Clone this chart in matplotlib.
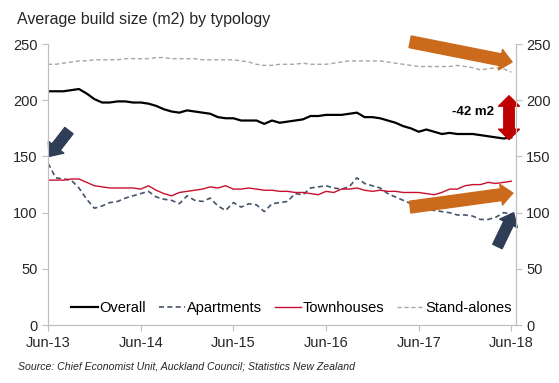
import matplotlib.pyplot as plt

plt.rcParams['font.family'] = ['Liberation Sans', 'DejaVu Sans']

# monthly series, Jun-13 .. Jun-18 (61 months)
overall = [208, 208, 208, 209, 210, 206, 201, 198, 198, 199, 199, 198, 198, 197, 195, 192,
           190, 189, 191, 190, 189, 188, 185, 184, 184, 182, 182, 182, 179, 182, 180, 181,
           182, 183, 186, 186, 187, 187, 187, 188, 189, 185, 185, 184, 182, 180, 177, 175,
           172, 174, 172, 170, 171, 170, 170, 170, 169, 168, 167, 166, 167]
apartments = [144, 131, 130, 129, 122, 112, 104, 106, 109, 110, 113, 115, 117, 119, 114, 112,
              111, 108, 115, 111, 110, 113, 106, 102, 109, 105, 108, 107, 101, 108, 109, 110,
              117, 116, 122, 123, 124, 122, 121, 123, 131, 126, 124, 122, 117, 114, 111, 108,
              104, 103, 102, 101, 100, 98, 98, 97, 94, 94, 96, 100, 99]
townhouses = [129, 129, 129, 130, 130, 127, 124, 123, 122, 122, 122, 122, 121, 124, 120, 117,
              115, 118, 119, 120, 121, 123, 122, 124, 121, 121, 122, 121, 120, 120, 119, 119,
              118, 118, 117, 116, 119, 118, 121, 121, 122, 120, 119, 120, 119, 119, 118, 118,
              118, 117, 116, 118, 121, 121, 124, 125, 125, 127, 126, 127, 128]
standalones = [232, 232, 233, 234, 235, 235, 236, 236, 236, 236, 237, 237, 237, 237, 238, 238,
               237, 237, 237, 237, 236, 236, 236, 236, 236, 235, 234, 232, 231, 231, 232, 232,
               232, 233, 232, 232, 232, 233, 234, 235, 235, 235, 235, 235, 234, 233, 232, 231,
               230, 230, 230, 230, 230, 231, 230, 229, 227, 228, 229, 228, 225]
months = list(range(len(overall)))
tick_pos = [0, 12, 24, 36, 48, 60]
tick_labels = ['Jun-13', 'Jun-14', 'Jun-15', 'Jun-16', 'Jun-17', 'Jun-18']

fig = plt.figure(figsize=(5.59, 3.83), dpi=100)
ax = fig.add_axes([0.086, 0.151, 0.837, 0.734])

ax.plot(months, overall, color='black', lw=1.6, label='Overall')
ax.plot(months, apartments, color='#44546A', lw=1.2, ls=(0, (3, 2)), label='Apartments')
ax.plot(months, townhouses, color='#C8102E', lw=1.0, label='Townhouses')
ax.plot(months, standalones, color='#A6A6A6', lw=1.0, ls=(0, (3, 2)), label='Stand-alones')

ax.set_xlim(0, 60.6)
ax.set_ylim(0, 250)
ax.set_yticks([0, 50, 100, 150, 200, 250])
ax.set_xticks(tick_pos)
ax.set_xticklabels(tick_labels)

ax2 = ax.twinx()
ax2.set_ylim(0, 250)
ax2.set_yticks([0, 50, 100, 150, 200, 250])

for a in (ax, ax2):
    a.spines['top'].set_visible(False)
    for s in ('left', 'right', 'bottom'):
        a.spines[s].set_color('#BFBFBF')
    a.tick_params(colors='#BFBFBF', labelcolor='#262626', labelsize=10.5, length=4, width=0.8)

leg = ax.legend(loc='lower center', ncol=4, frameon=False, fontsize=10.5,
                handlelength=1.8, handletextpad=0.1, columnspacing=0.9,
                bbox_to_anchor=(0.52, -0.01))

fig.text(0.03, 0.948, 'Average build size (m2) by typology', fontsize=11.5, va='center', color='#262626')
fig.text(0.032, 0.044, 'Source: Chief Economist Unit, Auckland Council; Statistics New Zealand',
         fontsize=7.6, style='italic', va='center', color='#262626')

orange = '#CC6A1C'
navy = '#2F3E56'
style = 'simple,head_width=1.5,head_length=0.85,tail_width=0.85'
ax.annotate('', xy=(60.1, 234), xytext=(46.9, 252), annotation_clip=False,
            arrowprops=dict(arrowstyle=style, color=orange, shrinkA=0, shrinkB=0))
ax.annotate('', xy=(60.2, 117.5), xytext=(46.9, 105), annotation_clip=False,
            arrowprops=dict(arrowstyle=style, color=orange, shrinkA=0, shrinkB=0))
navy_style = 'simple,head_width=1.4,head_length=0.85,tail_width=0.75'
ax.annotate('', xy=(0.1, 150), xytext=(2.7, 173), annotation_clip=False,
            arrowprops=dict(arrowstyle=navy_style, color=navy, shrinkA=0, shrinkB=0))
ax.annotate('', xy=(60.3, 100), xytext=(58.2, 70), annotation_clip=False,
            arrowprops=dict(arrowstyle=navy_style, color=navy, shrinkA=0, shrinkB=0))
red_style = 'simple,head_width=1.5,head_length=0.75,tail_width=0.75'
ax.annotate('', xy=(59.7, 204), xytext=(59.7, 185), annotation_clip=False,
            arrowprops=dict(arrowstyle=red_style, color='#C00000', shrinkA=0, shrinkB=0))
ax.annotate('', xy=(59.7, 165), xytext=(59.7, 186), annotation_clip=False,
            arrowprops=dict(arrowstyle=red_style, color='#C00000', shrinkA=0, shrinkB=0))
ax.text(57.8, 190, '-42 m2', ha='right', va='center', fontsize=9.5, fontweight='bold')

fig.savefig('out.png', dpi=100)
